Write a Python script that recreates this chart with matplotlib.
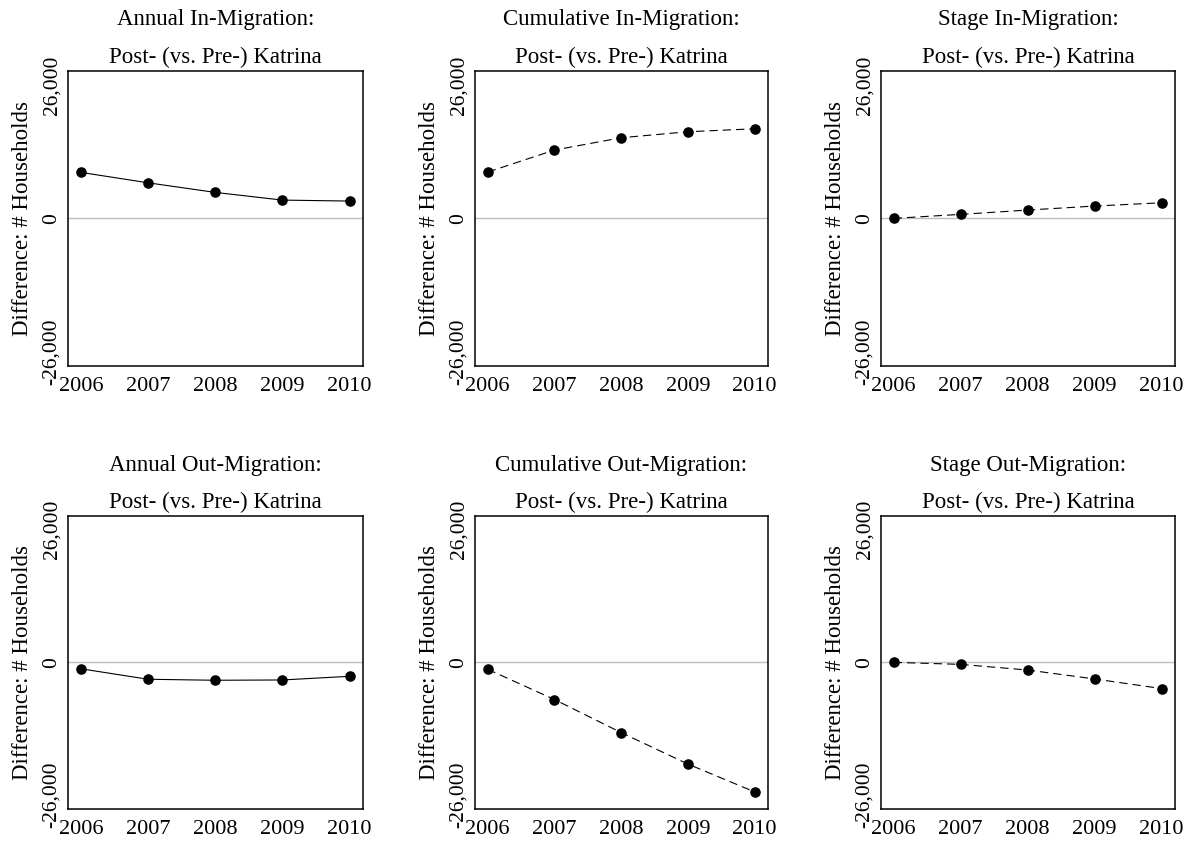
import matplotlib
matplotlib.use("Agg")
import matplotlib.pyplot as plt
import numpy as np

plt.rcParams['font.family'] = ['Liberation Serif', 'DejaVu Serif']

years = [2006, 2007, 2008, 2009, 2010]

annual_in = [8960, 6930, 5060, 3560, 3370]
cumulative_in = [9020, 13300, 15700, 16870, 17450]
stage_in = [0, 780, 1620, 2400, 3040]
annual_out = [-1250, -3310, -3510, -3450, -2730]
cumulative_out = [-1360, -7280, -13770, -19940, -25400]
stage_out = [0, -390, -1500, -3250, -5140]

titles = [
    "Annual In-Migration:", "Cumulative In-Migration:", "Stage In-Migration:",
    "Annual Out-Migration:", "Cumulative Out-Migration:", "Stage Out-Migration:",
]
series = [annual_in, cumulative_in, stage_in, annual_out, cumulative_out, stage_out]
styles = ['-', '--', '--', '-', '--', '--']
ytick_vals = [-26000, 0, 26000]
ytick_labels = ["-26,000", "0", "26,000"]
ylabel = "Difference: # Households"
subtitle = "Post- (vs. Pre-) Katrina"

W, H = 1190, 844
fig = plt.figure(figsize=(W / 100, H / 100), dpi=100)

cols = [(68, 363), (475, 768), (881, 1175)]
rows = [(71, 366), (516, 809)]

for i in range(6):
    r, c = divmod(i, 3)
    l, rr = cols[c]
    t, b = rows[r]
    ax = fig.add_axes([l / W, 1 - b / H, (rr - l) / W, (b - t) / H])
    ax.axhline(0, color='#bdbdbd', lw=1.0, zorder=1)
    ax.plot(years, series[i], linestyle=styles[i], color='black', lw=0.8,
            marker='o', markersize=6.6, markerfacecolor='black',
            markeredgecolor='black', zorder=3,
            dashes=(7.5, 4.5) if styles[i] == '--' else (None, None))
    ax.set_xlim(2005.81, 2010.2)
    ax.set_ylim(-28750, 28700)
    ax.set_xticks(years)
    ax.set_xticklabels([str(y) for y in years], fontsize=16)
    ax.set_yticks(ytick_vals)
    ax.set_yticklabels(ytick_labels, fontsize=15.5, rotation=90, va='center')
    ax.tick_params(axis='both', length=0)
    ax.tick_params(axis='x', pad=8)
    ax.tick_params(axis='y', pad=5)
    for s in ax.spines.values():
        s.set_linewidth(1.1)
        s.set_color('black')
    ax.set_ylabel(ylabel, fontsize=16.5)
    ax.yaxis.set_label_coords(-0.118, 0.5)
    x_center = (l + rr) / 2 / W
    fig.text(x_center, 1 - (t - 51) / H, titles[i], ha='center', va='center', fontsize=16.5)
    fig.text(x_center, 1 - (t - 14) / H, subtitle, ha='center', va='center', fontsize=16.5)

fig.savefig("out.png", dpi=100)
